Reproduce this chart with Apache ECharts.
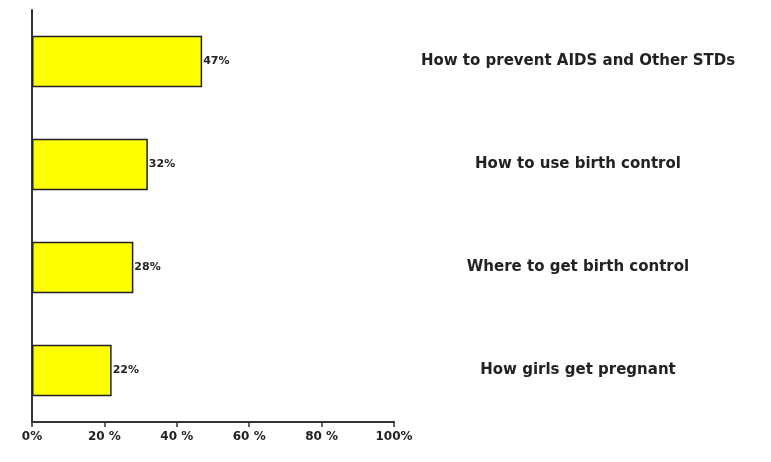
<!DOCTYPE html>
<html>
<head>
<meta charset="utf-8">
<script src="https://cdn.jsdelivr.net/npm/echarts@6/dist/echarts.min.js"></script>
<style>html,body{margin:0;padding:0;background:#fff}#c{width:771px;height:462px}</style>
</head>
<body>
<div id="c"></div>
<script>
var categories = ["How to prevent AIDS and Other STDs", "How to use birth control", "Where to get birth control", "How girls get pregnant"];
var values = [47, 32, 28, 22];
var xTickLabels = {0: "0%", 20: "20 %", 40: "40 %", 60: "60 %", 80: "80 %", 100: "100%"};

var chart = echarts.init(document.getElementById('c'), null, {renderer: 'canvas'});
chart.setOption({
  animation: false,
  backgroundColor: '#ffffff',
  grid: {left: 32, right: 377, top: 10, bottom: 40, containLabel: false},
  xAxis: {
    type: 'value', min: 0, max: 100, interval: 20,
    axisLine: {show: true, lineStyle: {color: '#333', width: 2}},
    axisTick: {show: true, length: 5, lineStyle: {color: '#333', width: 1.5}},
    splitLine: {show: false},
    axisLabel: {
      margin: 9, color: '#222', fontFamily: 'DejaVu Sans', fontSize: 12, fontWeight: 'bold',
      formatter: function (v) { return xTickLabels[v]; }
    }
  },
  yAxis: [{
    type: 'category', data: categories, inverse: true,
    axisLine: {show: true, onZero: false, lineStyle: {color: '#333', width: 2}},
    axisTick: {show: false},
    axisLabel: {show: false}
  }, {
    type: 'category', data: categories, inverse: true, position: 'right',
    axisLine: {show: false}, axisTick: {show: false},
    axisLabel: {
      show: true, margin: 184, align: 'center', verticalAlign: 'middle', padding: [0, 0, 12, 0],
      color: '#222', fontFamily: 'DejaVu Sans', fontSize: 15, fontWeight: 'bold'
    }
  }],
  series: [{
    type: 'bar', data: values, barWidth: '50%', yAxisIndex: 0,
    itemStyle: {color: '#ffff00', borderColor: '#222', borderWidth: 1.5},
    label: {
      show: true, position: 'right', distance: 1, formatter: '{c}%',
      color: '#222', fontFamily: 'DejaVu Sans', fontSize: 11, fontWeight: 'bold'
    }
  }]
});
</script>
</body>
</html>
